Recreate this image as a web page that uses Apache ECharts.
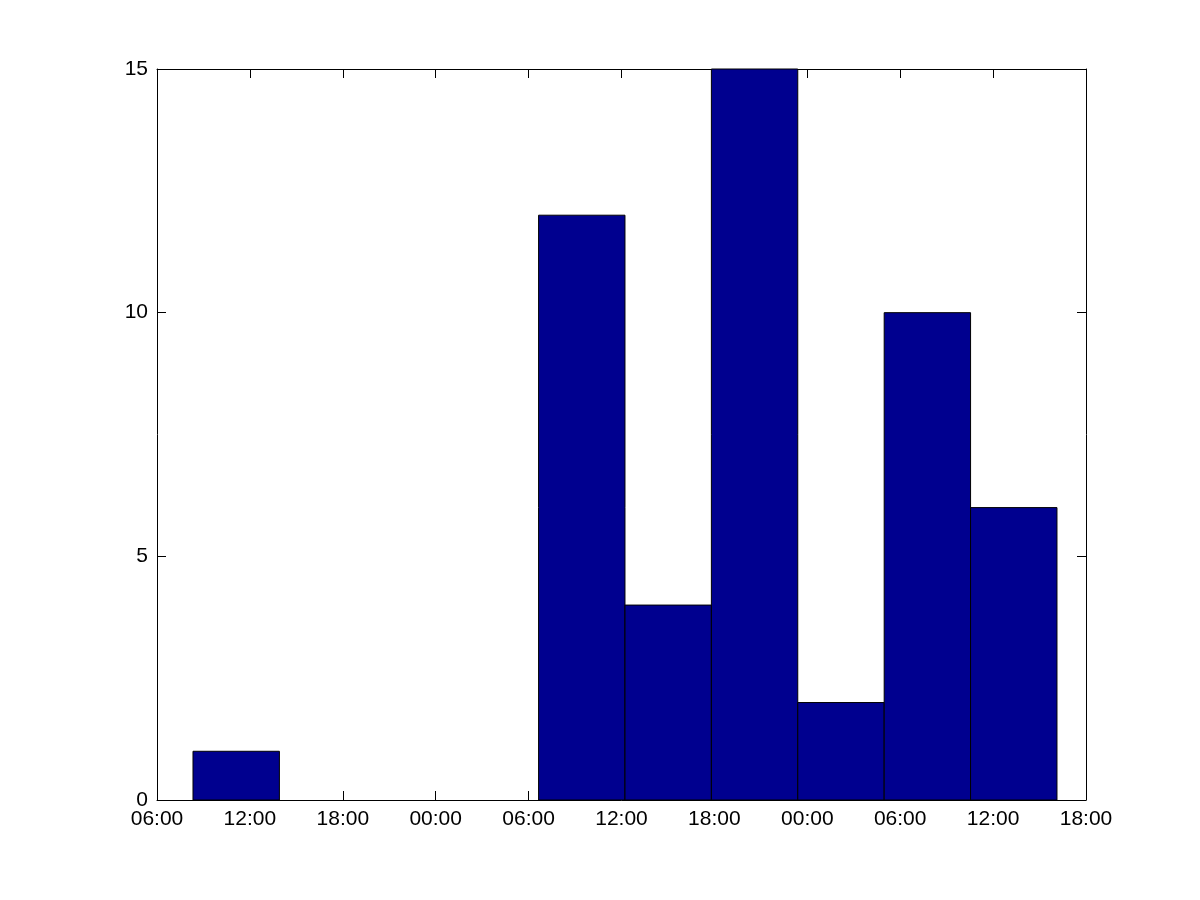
<!DOCTYPE html>
<html><head><meta charset="utf-8">
<script src="https://cdn.jsdelivr.net/npm/echarts@6/dist/echarts.min.js"></script>
<style>html,body{margin:0;padding:0;background:#fff}#c{width:1200px;height:900px}</style>
</head><body><div id="c"></div>
<script>
// hours since first 06:00 tick
var tickLabels = ["06:00","12:00","18:00","00:00","06:00","12:00","18:00","00:00","06:00","12:00","18:00"];
var binStart = 2.325;   // hours
var binWidth = 5.580;   // hours
var counts = [1, 0, 0, 0, 12, 4, 15, 2, 10, 6];

var data = counts.map(function (v, i) {
  return [binStart + i * binWidth, binStart + (i + 1) * binWidth, v];
});

function axLine() { return {show: true, onZero: false, lineStyle: {color: '#000', width: 1}}; }
function axTick() { return {show: true, inside: true, length: 9, lineStyle: {color: '#000', width: 1}}; }

var chart = echarts.init(document.getElementById('c'), null, {renderer: 'canvas'});
chart.setOption({
  animation: false,
  backgroundColor: '#fff',
  textStyle: {fontFamily: 'Liberation Sans, Arial, sans-serif', fontSize: 21, color: '#000'},
  grid: {left: 157, right: 114, top: 69, bottom: 100, containLabel: false},
  xAxis: [{
    type: 'value', min: 0, max: 60, interval: 6, position: 'bottom',
    axisLine: axLine(), axisTick: axTick(), splitLine: {show: false},
    axisLabel: {
      show: true, margin: 9, color: '#000', fontSize: 21,
      fontFamily: 'Liberation Sans, Arial, sans-serif',
      formatter: function (v) { return tickLabels[Math.round(v / 6)]; }
    }
  }, {
    type: 'value', min: 0, max: 60, interval: 6, position: 'top',
    axisLine: axLine(), axisTick: axTick(), splitLine: {show: false}, axisLabel: {show: false}
  }],
  yAxis: [{
    type: 'value', min: 0, max: 15, interval: 5, position: 'left',
    axisLine: axLine(), axisTick: axTick(), splitLine: {show: false},
    axisLabel: {
      show: true, margin: 9, color: '#000', fontSize: 21,
      fontFamily: 'Liberation Sans, Arial, sans-serif'
    }
  }, {
    type: 'value', min: 0, max: 15, interval: 5, position: 'right',
    axisLine: axLine(), axisTick: axTick(), splitLine: {show: false}, axisLabel: {show: false}
  }],
  series: [{
    type: 'custom',
    xAxisIndex: 0, yAxisIndex: 0,
    data: data,
    encode: {x: [0, 1], y: 2},
    renderItem: function (params, api) {
      var v = api.value(2);
      if (!v) return null;
      var p0 = api.coord([api.value(0), 0]);
      var p1 = api.coord([api.value(1), v]);
      return {
        type: 'rect',
        shape: {x: p0[0], y: p1[1], width: p1[0] - p0[0], height: p0[1] - p1[1]},
        style: {fill: '#00008f', stroke: '#000', lineWidth: 1}
      };
    }
  }]
});
</script></body></html>
